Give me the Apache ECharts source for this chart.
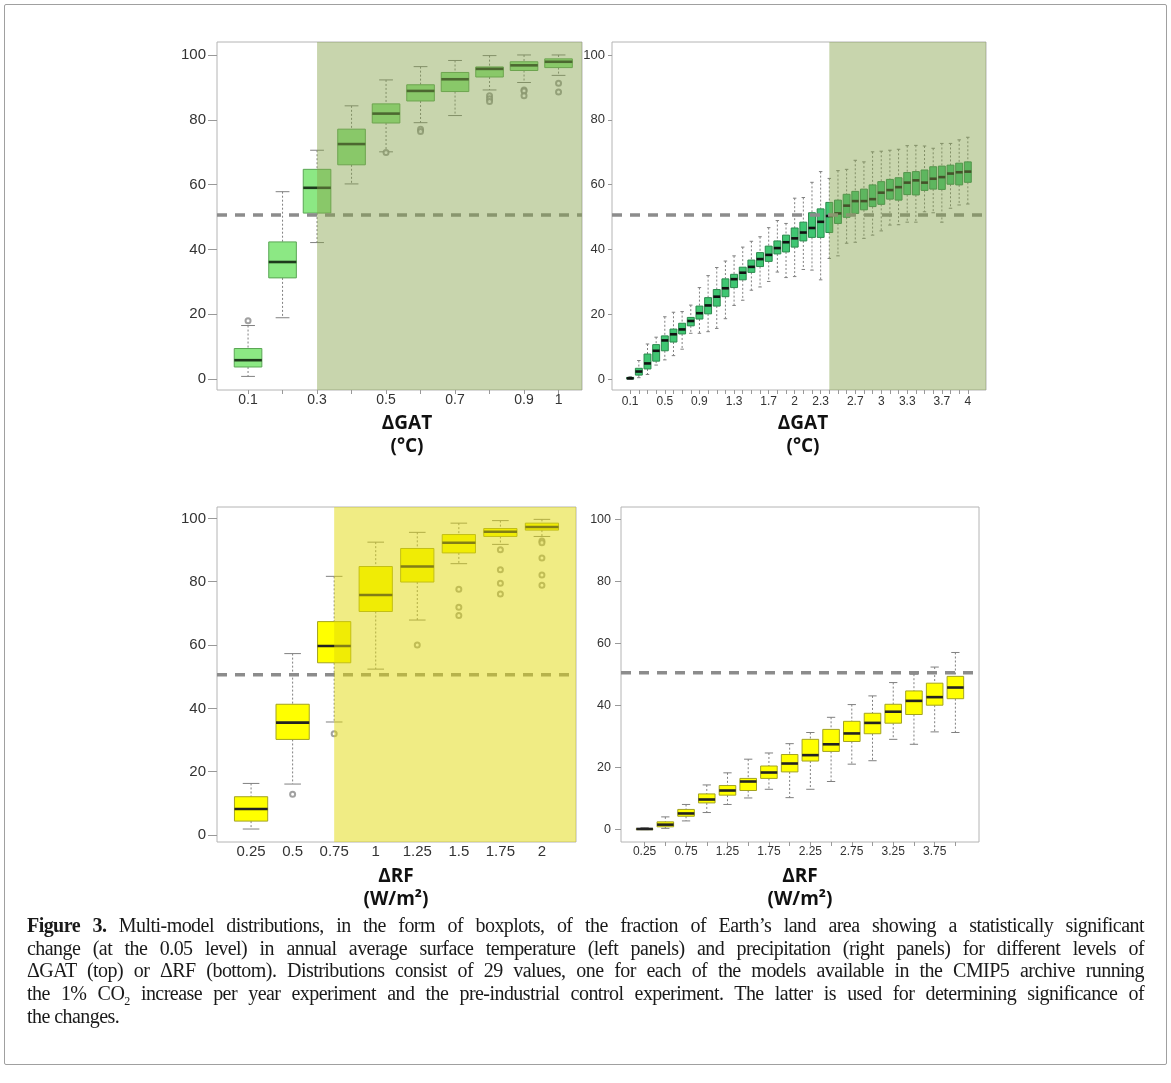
<!DOCTYPE html>
<html>
<head>
<meta charset="utf-8">
<script src="https://cdn.jsdelivr.net/npm/echarts@6/dist/echarts.min.js"></script>
<style>
html,body{margin:0;padding:0;background:#fff;}
#wrap{position:relative;width:1171px;height:1083px;overflow:hidden;}
#chart{position:absolute;left:0;top:0;width:1171px;height:1083px;}
#frame{position:absolute;left:4px;top:4px;width:1161px;height:1059px;border:1px solid #a0a0a0;border-radius:2px;pointer-events:none;}
#caption{position:absolute;left:27px;top:914px;width:1117px;font-family:"Liberation Serif","DejaVu Serif",serif;font-size:20px;line-height:22.7px;color:#1a1a1a;letter-spacing:-0.55px;}
#caption .ln{white-space:nowrap;}
#caption sub{font-size:12px;line-height:0;}
</style>
</head>
<body>
<div id="wrap">
  <div id="chart"></div>
  <div id="frame"></div>
  <div id="caption">
    <div class="ln j"><span><b>Figure 3.</b> Multi-model distributions, in the form of boxplots, of the fraction of Earth’s land area showing a statistically significant</span></div>
    <div class="ln j"><span>change (at the 0.05 level) in annual average surface temperature (left panels) and precipitation (right panels) for different levels of</span></div>
    <div class="ln j"><span>ΔGAT (top) or ΔRF (bottom). Distributions consist of 29 values, one for each of the models available in the CMIP5 archive running</span></div>
    <div class="ln j"><span>the 1% CO<sub>2</sub> increase per year experiment and the pre-industrial control experiment. The latter is used for determining significance of</span></div>
    <div class="ln"><span>the changes.</span></div>
  </div>
</div>
<script>
// ---------------- DATA ----------------
const yTicks = [0, 20, 40, 60, 80, 100];
const thresholdPct = 50.6;

// Top-left: temperature vs ΔGAT (°C)
const tlCats = ['0.1','0.2','0.3','0.4','0.5','0.6','0.7','0.8','0.9','1'];
const tlLabels = ['0.1','0.3','0.5','0.7','0.9','1'];
const tlLower  = [0.8, 18.9, 42.1, 60.2, 70.1, 79.1, 81.3, 89.2, 91.5, 93.7];
const tlQ1     = [3.7, 31.2, 51.2, 66.1, 79.0, 85.8, 88.7, 93.2, 95.2, 96.1];
const tlMedian = [5.8, 36.1, 59.0, 72.5, 81.9, 88.9, 92.5, 95.7, 96.8, 97.9];
const tlQ3     = [9.4, 42.3, 64.7, 77.1, 84.9, 90.8, 94.6, 96.3, 97.9, 98.8];
const tlUpper  = [16.5, 57.8, 70.6, 84.3, 92.3, 96.4, 98.3, 99.8, 100, 100];
const tlOutliers = [['0.1',18],['0.5',69.9],['0.6',77.1],['0.6',76.4],['0.8',87.4],['0.8',86.5],['0.8',85.6],
                    ['0.9',89.2],['0.9',88.9],['0.9',87.4],['1',91.3],['1',88.6]];
const tlShadeFrom = '0.3';

// Top-right: precipitation vs ΔGAT (°C)
const trCats = ['0.1','0.2','0.3','0.4','0.5','0.6','0.7','0.8','0.9','1',
                '1.1','1.2','1.3','1.4','1.5','1.6','1.7','1.8','1.9','2',
                '2.1','2.2','2.3','2.4','2.5','2.6','2.7','2.8','2.9','3',
                '3.1','3.2','3.3','3.4','3.5','3.6','3.7','3.8','3.9','4'];
const trLabels = ['0.1','0.5','0.9','1.3','1.7','2','2.3','2.7','3','3.3','3.7','4'];
const trLower  = [0, 0.4, 1.4, 4.3, 5.9, 7.2, 9.2, 14.1, 14.1, 14.6, 15.6, 18.6, 22.7, 24.3, 27.4, 28.4, 30.1, 33.0, 31.3, 31.6,
                  33.8, 33.6, 30.6, 37.2, 38.0, 41.9, 42.2, 43.4, 44.4, 45.7, 47.5, 47.6, 48.4, 48.4, 51.6, 51.3, 48.4, 52.7, 53.7, 54.0];
const trQ1     = [0, 1.2, 3.1, 5.5, 8.7, 11.4, 13.9, 16.4, 18.5, 20.1, 22.5, 25.4, 28.2, 30.6, 32.9, 34.7, 36.3, 38.6, 39.2, 40.7,
                  42.6, 43.7, 43.7, 45.2, 48.0, 49.9, 51.1, 52.2, 53.2, 53.9, 55.5, 55.2, 56.9, 56.8, 58.2, 58.6, 58.5, 60.1, 59.9, 60.7];
const trMedian = [0.2, 2.3, 4.8, 8.7, 11.9, 13.8, 15.3, 17.9, 20.3, 22.7, 25.4, 28.0, 30.8, 32.8, 34.6, 37.0, 38.3, 40.4, 42.2, 43.4,
                  45.2, 46.6, 48.5, 50.3, 51.1, 53.5, 54.9, 54.9, 55.5, 57.5, 58.3, 59.2, 60.6, 61.3, 60.6, 61.8, 62.3, 63.4, 63.8, 64.0];
const trQ3     = [0.5, 3.3, 7.7, 10.6, 13.3, 15.4, 17.2, 19.0, 22.5, 25.1, 27.6, 30.9, 32.3, 34.5, 36.7, 39.0, 41.0, 42.6, 44.4, 46.6,
                  48.4, 51.3, 52.5, 54.5, 55.2, 57.0, 57.9, 58.6, 59.9, 60.9, 61.6, 62.1, 63.7, 64.0, 64.5, 65.5, 65.7, 66.0, 66.6, 67.0];
const trUpper  = [0.7, 5.7, 10.8, 12.9, 19.2, 20.6, 20.8, 22.8, 28.2, 31.9, 34.4, 36.4, 38.0, 40.7, 42.5, 43.9, 46.7, 48.9, 48.0, 55.8,
                  56.0, 60.7, 64.0, 61.9, 64.3, 64.7, 67.5, 67.0, 70.1, 70.3, 70.6, 70.9, 72.0, 72.1, 71.9, 71.2, 72.7, 72.7, 73.8, 74.6];
const trOutliers = [];
const trShadeFrom = '2.4';

// Bottom-left: temperature vs ΔRF (W/m²)
const blCats = ['0.25','0.5','0.75','1','1.25','1.5','1.75','2'];
const blLabels = ['0.25','0.5','0.75','1','1.25','1.5','1.75','2'];
const blLower  = [1.9, 16.1, 35.7, 52.4, 67.9, 85.7, 91.8, 94.3];
const blQ1     = [4.4, 30.2, 54.4, 70.6, 79.9, 89.1, 94.3, 96.3];
const blMedian = [8.2, 35.5, 59.7, 75.8, 84.8, 92.3, 95.8, 97.3];
const blQ3     = [12.1, 41.3, 67.4, 84.8, 90.5, 94.9, 96.8, 98.5];
const blUpper  = [16.3, 57.3, 81.7, 92.5, 95.6, 98.5, 99.3, 99.7];
const blOutliers = [['0.5',12.9],['0.75',32],['1.25',60],['1.5',77.6],['1.5',71.9],['1.5',69.3],
                    ['1.75',90.1],['1.75',83.8],['1.75',79.5],['1.75',76.1],
                    ['2',92.9],['2',92.3],['2',87.5],['2',82.1],['2',78.9]];
const blShadeFrom = '0.75';

// Bottom-right: precipitation vs ΔRF (W/m²)
const brCats = ['0.25','0.5','0.75','1','1.25','1.5','1.75','2','2.25','2.5','2.75','3','3.25','3.5','3.75','4'];
const brLabels = ['0.25','0.75','1.25','1.75','2.25','2.75','3.25','3.75'];
const brLower  = [0, 0.4, 2.8, 5.5, 8.1, 10.2, 13.0, 10.3, 13.0, 15.5, 21.1, 22.2, 29.1, 27.5, 31.5, 31.3];
const brQ1     = [0, 0.9, 4.3, 8.6, 11.1, 12.6, 16.5, 18.6, 22.1, 25.2, 28.4, 30.9, 34.3, 37.1, 40.1, 42.2];
const brMedian = [0.2, 1.6, 5.2, 9.7, 12.6, 15.5, 18.4, 21.3, 24.0, 27.5, 31.0, 34.4, 38.0, 41.5, 42.7, 45.8];
const brQ3     = [0.3, 2.5, 6.5, 11.5, 14.2, 16.5, 20.5, 24.2, 29.1, 32.3, 34.9, 37.5, 40.4, 44.7, 47.2, 49.4];
const brUpper  = [0.6, 4.1, 8.1, 14.4, 18.3, 22.7, 24.7, 27.7, 31.3, 36.2, 40.3, 43.1, 47.4, 50.1, 52.4, 57.1];
const brOutliers = [];
const brShadeFrom = null;

// ---------------- LAYOUT / STYLE ----------------
const panels = [
  { cats: tlCats, labels: tlLabels, lower: tlLower, q1: tlQ1, med: tlMedian, q3: tlQ3, upper: tlUpper, out: tlOutliers, shade: tlShadeFrom,
    grid: {left: 217, top: 42, width: 365, height: 348}, xMin: 0.1, xMax: 10.68, yMin: -3.4, yMax: 104,
    fill: '#8ce884', stroke: '#5aa654', medColor: '#1e3a1c', shadeColor: 'rgba(133,162,73,0.45)',
    yFont: 15, xFont: 14, yTick: 9, yMargin: 11, xTick: 4, xMargin: 3 },
  { cats: trCats, labels: trLabels, lower: trLower, q1: trQ1, med: trMedian, q3: trQ3, upper: trUpper, out: trOutliers, shade: trShadeFrom,
    grid: {left: 612, top: 42, width: 374, height: 348}, xMin: -1.1, xMax: 42.1, yMin: -3.4, yMax: 104,
    fill: '#3fc672', stroke: '#2a8a4c', medColor: '#111', shadeColor: 'rgba(133,162,73,0.45)',
    yFont: 13, xFont: 12, yTick: 4, yMargin: 7, xTick: 4, xMargin: 6 },
  { cats: blCats, labels: blLabels, lower: blLower, q1: blQ1, med: blMedian, q3: blQ3, upper: blUpper, out: blOutliers, shade: blShadeFrom,
    grid: {left: 217, top: 507, width: 359, height: 335}, xMin: 0.18, xMax: 8.82, yMin: -2.2, yMax: 103.6,
    fill: '#ffff00', stroke: '#a3a320', medColor: '#222', shadeColor: 'rgba(225,217,10,0.5)',
    yFont: 15, xFont: 15, yTick: 9, yMargin: 11, xTick: 0, xMargin: 2 },
  { cats: brCats, labels: brLabels, lower: brLower, q1: brQ1, med: brMedian, q3: brQ3, upper: brUpper, out: brOutliers, shade: brShadeFrom,
    grid: {left: 621, top: 507, width: 358, height: 335}, xMin: -0.14, xMax: 17.14, yMin: -4, yMax: 104,
    fill: '#ffff00', stroke: '#a3a320', medColor: '#222', shadeColor: null,
    yFont: 12.5, xFont: 12, yTick: 6, yMargin: 10, xTick: 4, xMargin: 4 }
];

const BOX_W = 0.8, CAP_W = 0.4;
const FONT = '"Liberation Sans", Arial, sans-serif';

function boxRenderer(p) {
  return function (params, api) {
    const x = api.value(0), lo = api.value(1), q1 = api.value(2), md = api.value(3), q3 = api.value(4), hi = api.value(5);
    const hw = BOX_W / 2, cw = CAP_W / 2;
    const tl = api.coord([x - hw, q3]), br = api.coord([x + hw, q1]);
    const mL = api.coord([x - hw, md]), mR = api.coord([x + hw, md]);
    const pHi = api.coord([x, hi]), pQ3 = api.coord([x, q3]), pQ1 = api.coord([x, q1]), pLo = api.coord([x, lo]);
    const cHL = api.coord([x - cw, hi]), cHR = api.coord([x + cw, hi]);
    const cLL = api.coord([x - cw, lo]), cLR = api.coord([x + cw, lo]);
    const wStyle = {stroke: '#808080', lineWidth: 1, lineDash: [2, 2]};
    const cStyle = {stroke: '#808080', lineWidth: 1};
    return {
      type: 'group',
      children: [
        {type: 'line', shape: {x1: pHi[0], y1: pHi[1], x2: pQ3[0], y2: pQ3[1]}, style: wStyle},
        {type: 'line', shape: {x1: pQ1[0], y1: pQ1[1], x2: pLo[0], y2: pLo[1]}, style: wStyle},
        {type: 'line', shape: {x1: cHL[0], y1: cHL[1], x2: cHR[0], y2: cHR[1]}, style: cStyle},
        {type: 'line', shape: {x1: cLL[0], y1: cLL[1], x2: cLR[0], y2: cLR[1]}, style: cStyle},
        {type: 'rect', shape: {x: tl[0], y: tl[1], width: br[0] - tl[0], height: Math.max(br[1] - tl[1], 1)},
         style: {fill: p.fill, stroke: p.stroke, lineWidth: 1}},
        {type: 'line', shape: {x1: mL[0], y1: mL[1], x2: mR[0], y2: mR[1]}, style: {stroke: p.medColor, lineWidth: 2.6}}
      ]
    };
  };
}

const grids = [], xAxes = [], yAxes = [], series = [];
panels.forEach(function (p, i) {
  const pos = function (c) { return p.cats.indexOf(c) + 1; };
  grids.push(Object.assign({show: true, borderColor: '#b4b4b4', borderWidth: 1, backgroundColor: 'transparent'}, p.grid));
  xAxes.push({
    type: 'value', gridIndex: i, min: p.xMin, max: p.xMax,
    axisLine: {show: false, onZero: false},
    splitLine: {show: false},
    axisTick: {show: p.xTick > 0, length: p.xTick, customValues: p.cats.map(pos), lineStyle: {color: '#999'}},
    axisLabel: {customValues: p.labels.map(pos), margin: p.xMargin, fontSize: p.xFont, fontFamily: FONT, color: '#333',
                formatter: function (v) { return p.cats[Math.round(v) - 1]; }}
  });
  yAxes.push({
    type: 'value', gridIndex: i, min: p.yMin, max: p.yMax,
    axisLine: {show: false, onZero: false},
    splitLine: {show: false},
    axisTick: {show: true, length: p.yTick, customValues: yTicks, lineStyle: {color: '#999'}},
    axisLabel: {customValues: yTicks, margin: p.yMargin, fontSize: p.yFont, fontFamily: FONT, color: '#333'}
  });
  series.push({
    type: 'custom', xAxisIndex: i, yAxisIndex: i, z: 2, silent: true,
    renderItem: boxRenderer(p),
    encode: {x: 0, y: [1, 2, 3, 4, 5]},
    data: p.cats.map(function (c, k) { return [k + 1, p.lower[k], p.q1[k], p.med[k], p.q3[k], p.upper[k]]; })
  });
  if (p.out.length) {
    series.push({
      type: 'scatter', xAxisIndex: i, yAxisIndex: i, z: 3, silent: true,
      symbol: 'emptyCircle', symbolSize: 5,
      itemStyle: {color: '#8a8a8a', borderColor: '#8a8a8a', borderWidth: 1},
      data: p.out.map(function (o) { return [pos(o[0]), o[1]]; })
    });
  }
  series.push({
    type: 'line', xAxisIndex: i, yAxisIndex: i, z: 4, silent: true, symbol: 'none',
    lineStyle: {color: '#8c8c8c', width: 3.5, type: [10, 8]},
    data: [[p.xMin, thresholdPct], [p.xMax, thresholdPct]]
  });
  if (p.shade) {
    series.push({
      type: 'custom', xAxisIndex: i, yAxisIndex: i, z: 6, silent: true,
      renderItem: function (params, api) {
        const a = api.coord([api.value(0), p.yMax]);
        const b = api.coord([api.value(1), p.yMin]);
        return {type: 'rect', shape: {x: a[0], y: a[1], width: b[0] - a[0], height: b[1] - a[1]},
                style: {fill: p.shadeColor}};
      },
      data: [[pos(p.shade), p.xMax]]
    });
  }
});

const titleFont = 'bold 19px "Open Sans", "DejaVu Sans", sans-serif';
function title(text, x, y) {
  return {type: 'text', x: x, y: y, style: {text: text, font: titleFont, fill: '#111', textAlign: 'center', textVerticalAlign: 'middle'}};
}

const chart = echarts.init(document.getElementById('chart'), null, {renderer: 'canvas'});
chart.setOption({
  animation: false,
  backgroundColor: '#fff',
  grid: grids,
  xAxis: xAxes,
  yAxis: yAxes,
  series: series,
  graphic: [
    title('ΔGAT', 407, 424), title('(°C)', 407, 447),
    title('ΔGAT', 803, 424), title('(°C)', 803, 447),
    title('ΔRF', 396, 877), title('(W/m²)', 396, 900),
    title('ΔRF', 800, 877), title('(W/m²)', 800, 900)
  ]
});

// Fit justified caption lines to the caption width via word spacing
(function () {
  const target = 1117;
  document.querySelectorAll('#caption .j').forEach(function (div) {
    const span = div.firstElementChild;
    const natural = span.getBoundingClientRect().width;
    const spaces = (span.textContent.match(/ /g) || []).length;
    if (spaces > 0) span.style.wordSpacing = ((target - natural) / spaces) + 'px';
  });
})();
</script>
</body>
</html>
